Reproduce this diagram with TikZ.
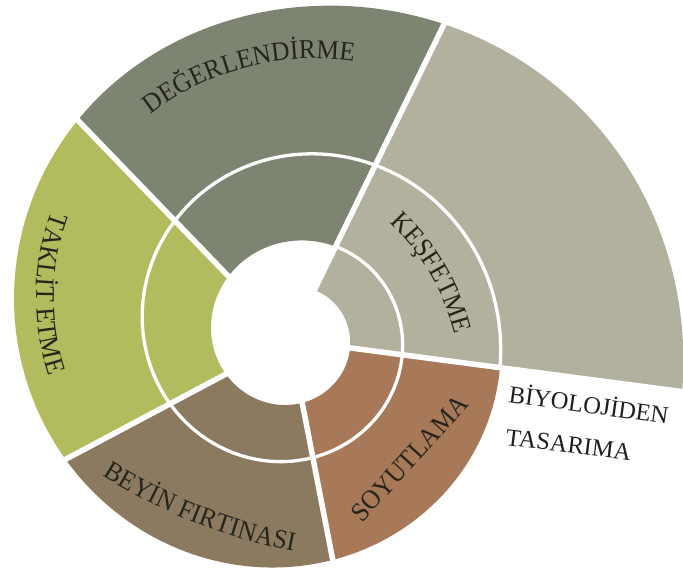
\documentclass[tikz,border=0pt]{standalone}
\usepackage{fontspec}
\setmainfont{Liberation Serif}
\newfontfamily\lblfont[FakeStretch=0.94]{Liberation Serif}
\usetikzlibrary{decorations.text}

\definecolor{kesfet}{HTML}{B2B19E}
\definecolor{degerl}{HTML}{7E8472}
\definecolor{taklit}{HTML}{B2BC5E}
\definecolor{beyin}{HTML}{8C7A60}
\definecolor{soyut}{HTML}{A87959}
\definecolor{ink}{HTML}{25251C}

\begin{document}
\begin{tikzpicture}[x=1pt,y=1pt,
  % logarithmic spiral around the hub, phi measured clockwise from the top-right ray;
  % the last factor flattens the outer edge of the top sector a little
  declare function={
    sr(\t)=98.1*exp(0.00174614*\t)*(1+0.06*cos(\t))
           *(1-0.04*exp(-(min(abs(\t-700)/50,3))*(min(abs(\t-700)/50,3))));
    sx(\t)=290+sr(\t)*cos(64-\t);
    sy(\t)=241+sr(\t)*sin(64-\t);
  },
  gap/.style={white, line width=5.5pt},
  ring/.style={white, line width=3.3pt},
  lbl/.style={font=\lblfont\fontsize{27}{30}\selectfont, text=ink, inner sep=0pt},
  title/.style={anchor=base west, font=\fontsize{24.5}{28}\selectfont, text=black!88, inner sep=0pt},
  arctext/.style={decorate, decoration={text along path, text align=center,
      text color=ink, text={|\lblfont\fontsize{27}{30}\selectfont|#1}}}
]
\useasboundingbox (0,0) rectangle (683,581);
\fill[white] (0,0) rectangle (683,581);

% sectors: inner edge on the first turn, outer edge on the next one
\fill[kesfet] plot[domain=-360:-288.5, samples=40] ({sx(\x)},{sy(\x)})
  -- plot[domain=791.5:720, samples=60] ({sx(\x)},{sy(\x)}) -- cycle;
\fill[soyut] plot[domain=-288.5:-217, samples=40] ({sx(\x)},{sy(\x)})
  -- plot[domain=503:431.5, samples=60] ({sx(\x)},{sy(\x)}) -- cycle;
\fill[beyin] plot[domain=-217:-144, samples=40] ({sx(\x)},{sy(\x)})
  -- plot[domain=576:503, samples=60] ({sx(\x)},{sy(\x)}) -- cycle;
\fill[taklit] plot[domain=-144:-70, samples=40] ({sx(\x)},{sy(\x)})
  -- plot[domain=650:576, samples=60] ({sx(\x)},{sy(\x)}) -- cycle;
\fill[degerl] plot[domain=-70:0, samples=40] ({sx(\x)},{sy(\x)})
  -- plot[domain=720:650, samples=60] ({sx(\x)},{sy(\x)}) -- cycle;

% white spiral line through the sectors
\draw[ring] plot[domain=0:431.5, samples=220] ({sx(\x)},{sy(\x)});

% white gaps between the sectors
\coordinate (O) at (290,241);
\draw[gap] (O) -- ++(64:420);
\draw[gap] (O) -- ++(-7.5:430);
\draw[gap] (O) -- ++(-79:300);
\draw[gap] (O) -- ++(-152:320);
\draw[gap] (O) -- ++(134:340);

% curved labels
\path[arctext=DEĞERLENDİRME] (314.7,255.5) ++(136.2:267) arc[start angle=136.2, end angle=73.2, radius=267];
\path[arctext=KEŞFETME] (230.2,189.4) ++(50:232) arc[start angle=50, end angle=11, radius=232];
\path[arctext=TAKLİT ETME] (286.2,283) ++(149:250) arc[start angle=149, end angle=209, radius=250];
\path[arctext=BEYİN FIRTINASI] (397.6,574.3) ++(-128:554.3) arc[start angle=-128, end angle=-95, radius=554.3];
\node[lbl, rotate=47.7] (soy) at (409.5,122.6) {SOYUTLAMA};

% title beside the spiral
\node[title, rotate=-8] (bio) at (508,179) {BİYOLOJİDEN};
\node[title, rotate=-7] (tas) at (505,136) {TASARIMA};
\end{tikzpicture}
\end{document}
